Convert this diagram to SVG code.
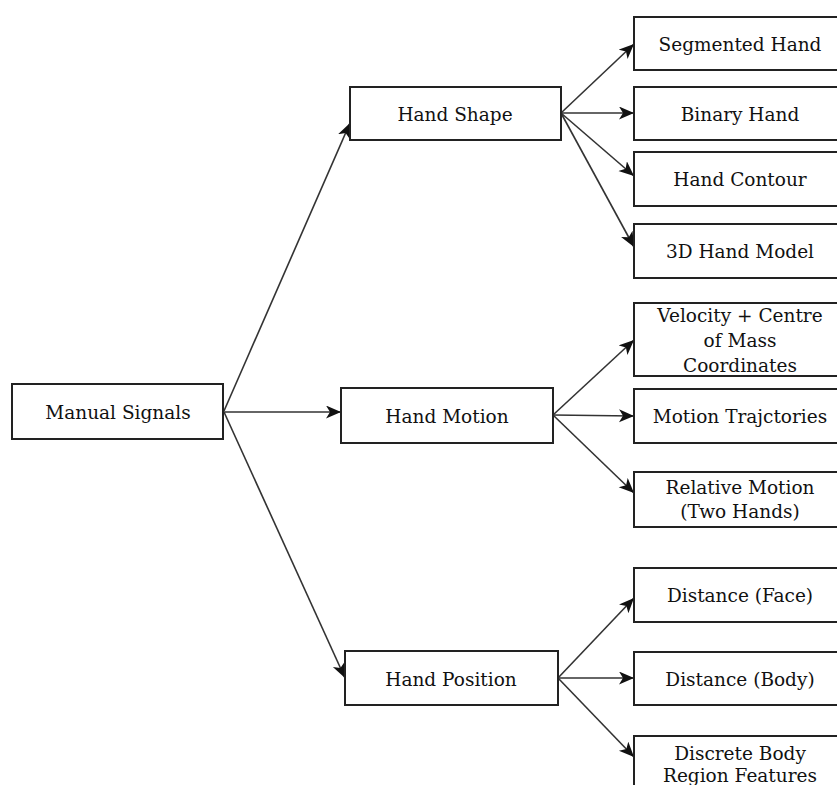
<svg xmlns="http://www.w3.org/2000/svg" width="837" height="785" viewBox="0 0 837 785">
<style>
.box{fill:#fff;stroke:#222;stroke-width:2}
.t{font-family:"DejaVu Serif","Liberation Serif",serif;font-size:18.5px;fill:#111;text-anchor:middle}
.c{stroke:#333;stroke-width:1.6;fill:none;marker-end:url(#ah)}
</style>
<defs>
<marker id="ah" markerUnits="userSpaceOnUse" markerWidth="16" markerHeight="14" refX="15" refY="6.5" orient="auto">
<path d="M0,0 L15,6.5 L0,13 L4,6.5 z" fill="#111"/>
</marker>
</defs>
<rect width="837" height="785" fill="#fff"/>
<g id="connectors">
<line class="c" x1="224" y1="411" x2="350" y2="123"/>
<line class="c" x1="224" y1="412" x2="341" y2="412"/>
<line class="c" x1="224" y1="412" x2="345" y2="678"/>
<line class="c" x1="561" y1="113" x2="634" y2="44"/>
<line class="c" x1="561" y1="113" x2="634" y2="113"/>
<line class="c" x1="561" y1="113" x2="634" y2="176"/>
<line class="c" x1="561" y1="113" x2="634" y2="247"/>
<line class="c" x1="553" y1="415" x2="634" y2="340"/>
<line class="c" x1="553" y1="415" x2="634" y2="416"/>
<line class="c" x1="553" y1="415" x2="634" y2="493"/>
<line class="c" x1="558" y1="678" x2="634" y2="598"/>
<line class="c" x1="558" y1="678" x2="634" y2="678"/>
<line class="c" x1="558" y1="678" x2="634" y2="757"/>
</g>
<g id="manual-signals"><rect class="box" x="12" y="384" width="211" height="55"/><text class="t" x="118" y="419">Manual Signals</text></g>
<g id="hand-shape"><rect class="box" x="350" y="87" width="211" height="53"/><text class="t" x="455" y="121">Hand Shape</text></g>
<g id="hand-motion"><rect class="box" x="341" y="388" width="212" height="55"/><text class="t" x="447" y="423">Hand Motion</text></g>
<g id="hand-position"><rect class="box" x="345" y="651" width="213" height="54"/><text class="t" x="451" y="686">Hand Position</text></g>
<g id="segmented-hand"><rect class="box" x="634" y="17" width="212" height="53"/><text class="t" x="740" y="51">Segmented Hand</text></g>
<g id="binary-hand"><rect class="box" x="634" y="87" width="212" height="53"/><text class="t" x="740" y="121">Binary Hand</text></g>
<g id="hand-contour"><rect class="box" x="634" y="152" width="212" height="54"/><text class="t" x="740" y="186">Hand Contour</text></g>
<g id="hand-model"><rect class="box" x="634" y="224" width="212" height="54"/><text class="t" x="740" y="258">3D Hand Model</text></g>
<g id="velocity"><rect class="box" x="634" y="303" width="212" height="73"/><text class="t" x="740" y="322">Velocity + Centre</text><text class="t" x="740" y="347">of Mass</text><text class="t" x="740" y="372">Coordinates</text></g>
<g id="motion-trajectories"><rect class="box" x="634" y="389" width="212" height="54"/><text class="t" x="740" y="423">Motion Trajctories</text></g>
<g id="relative-motion"><rect class="box" x="634" y="472" width="212" height="55"/><text class="t" x="740" y="494">Relative Motion</text><text class="t" x="740" y="518">(Two Hands)</text></g>
<g id="distance-face"><rect class="box" x="634" y="568" width="212" height="54"/><text class="t" x="740" y="602">Distance (Face)</text></g>
<g id="distance-body"><rect class="box" x="634" y="652" width="212" height="53"/><text class="t" x="740" y="686">Distance (Body)</text></g>
<g id="discrete-body"><rect class="box" x="634" y="736" width="212" height="60"/><text class="t" x="740" y="760">Discrete Body</text><text class="t" x="740" y="782">Region Features</text></g>
</svg>
